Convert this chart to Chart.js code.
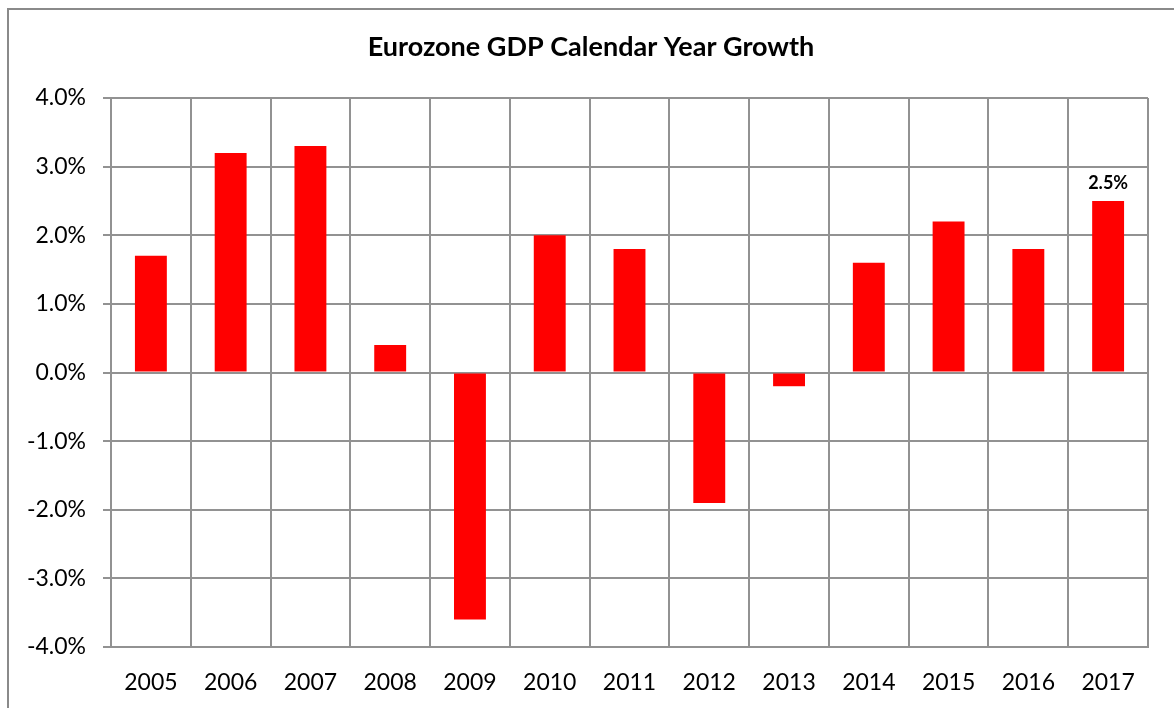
<!DOCTYPE html>
<html>
<head>
<meta charset="utf-8">
<script src="https://cdn.jsdelivr.net/npm/chart.js@4"></script>
<style>
  html, body { margin: 0; padding: 0; background: #fff; }
  #wrap { width: 1174px; height: 708px; position: relative; }
</style>
</head>
<body>
<div id="wrap"><canvas id="gdpChart" width="1174" height="708"></canvas></div>
<script>
// Dữ liệu tăng trưởng GDP khu vực đồng euro
const years = ['2005', '2006', '2007', '2008', '2009', '2010', '2011', '2012', '2013', '2014', '2015', '2016', '2017'];
const growth = [1.7, 3.2, 3.3, 0.4, -3.6, 2.0, 1.8, -1.9, -0.2, 1.6, 2.2, 1.8, 2.5];
const yTicks = [-4, -3, -2, -1, 0, 1, 2, 3, 4];
const labelledYears = ['2017'];
const chartTitle = 'Eurozone GDP Calendar Year Growth';

const gridGray = '#929292';
const fontFamily = 'Lato, "Open Sans", sans-serif';

// Khung viền ngoài và tiêu đề (tiêu đề căn giữa theo cả khung)
const frame = {
  id: 'frame',
  beforeDraw(chart) {
    const c = chart.ctx;
    c.save();
    c.strokeStyle = '#8a8a8a';
    c.lineWidth = 2;
    c.beginPath();
    c.moveTo(8, 708);
    c.lineTo(8, 9);
    c.lineTo(1174, 9);
    c.stroke();
    c.font = 'bold 27px ' + fontFamily;
    c.fillStyle = '#000';
    c.textAlign = 'center';
    c.textBaseline = 'middle';
    c.fillText(chartTitle, 591, 47);
    c.restore();
  }
};

// Nhãn giá trị phía trên cột
const valueLabels = {
  id: 'valueLabels',
  afterDatasetsDraw(chart) {
    const c = chart.ctx;
    const meta = chart.getDatasetMeta(0);
    c.save();
    c.font = 'bold 18px ' + fontFamily;
    c.fillStyle = '#000';
    c.textAlign = 'center';
    c.textBaseline = 'bottom';
    meta.data.forEach((bar, i) => {
      if (!labelledYears.includes(years[i])) return;
      c.fillText(growth[i].toFixed(1) + '%', bar.x, bar.y - 9);
    });
    c.restore();
  }
};

const ctx = document.getElementById('gdpChart').getContext('2d');
new Chart(ctx, {
  type: 'bar',
  data: {
    labels: years,
    datasets: [{
      data: growth,
      backgroundColor: '#ff0000',
      borderWidth: 0,
      barPercentage: 0.4,
      categoryPercentage: 1.0
    }]
  },
  options: {
    responsive: false,
    animation: false,
    layout: { padding: { left: 0, right: 26, bottom: 12, top: 98 } },
    plugins: {
      legend: { display: false },
      tooltip: { enabled: false },
      title: { display: false }
    },
    scales: {
      x: {
        afterFit(scale) { scale.height = 49; },
        grid: { color: gridGray, lineWidth: 2, drawTicks: false, offset: true },
        border: { color: gridGray, width: 2 },
        ticks: { color: '#000', font: { family: fontFamily, size: 23 }, padding: 22, maxRotation: 0 }
      },
      y: {
        min: -4,
        max: 4,
        afterBuildTicks(scale) {
          scale.ticks = yTicks.map(v => ({ value: v }));
        },
        afterFit(scale) { scale.width = 111; },
        grid: { color: gridGray, lineWidth: 2, tickLength: 8 },
        border: { color: gridGray, width: 2 },
        ticks: {
          color: '#000',
          font: { family: fontFamily, size: 23 },
          padding: 17,
          callback: v => v.toFixed(1) + '%'
        }
      }
    }
  },
  plugins: [frame, valueLabels]
});
</script>
</body>
</html>
